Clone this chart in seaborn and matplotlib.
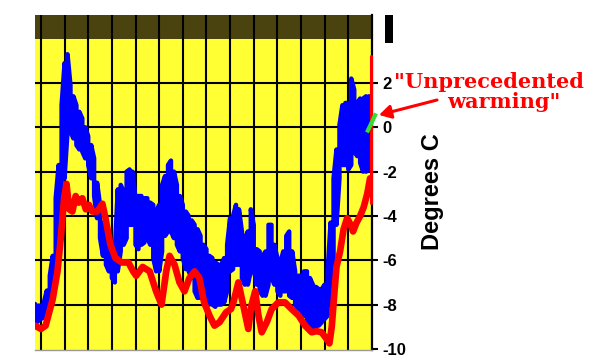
import numpy as np
import pandas as pd
import matplotlib
matplotlib.use("Agg")
import matplotlib.pyplot as plt
from matplotlib.patches import Rectangle
import seaborn as sns

# ---------------- data ----------------
# x in grid units (one vertical grid line per unit), y in degrees C
# Blue series: noisy band, given as top / bottom edge per column (step 0.125)
blue_start = -0.25
blue_step = 0.125
blue_top = [
    -7.97, -8.05, -8.05, -7.9, -7.37, -6.7, -5.8, -3.2,
    -1.7, 1.0, 2.9, 3.3, 1.9, 1.4, 1.0, 0.7,
    0.4, 0.0, -0.4, -0.8, -1.4, -2.5, -3.5, -4.3,
    -4.7, -5.0, -5.3, -5.6, -2.8, -2.6, -2.9, -2.0,
    -1.9, -2.0, -3.2, -3.1, -3.1, -3.2, -3.2, -3.4,
    -3.5, -3.8, -3.5, -2.6, -2.2, -1.7, -1.5, -2.0,
    -2.6, -3.1, -3.5, -3.8, -4.0, -4.2, -4.4, -4.6,
    -4.9, -5.3, -5.5, -5.8, -5.9, -6.1, -6.2, -6.2,
    -5.9, -5.3, -4.1, -4.0, -3.5, -3.7, -4.7, -5.0,
    -4.7, -3.7, -4.4, -5.5, -5.6, -5.8, -5.6, -4.4,
    -4.4, -5.3, -5.9, -6.1, -5.6, -4.9, -4.7, -5.6,
    -6.5, -6.7, -6.7, -6.5, -6.5, -6.8, -7.1, -7.2,
    -7.3, -7.3, -7.1, -6.5, -4.3, -2.3, -1.0, 0.1,
    1.0, 1.1, 1.1, 2.2, 1.7, 1.1, 1.3, 1.3,
    1.4, 1.4,
]
blue_bot = [
    -8.72, -8.77, -8.65, -8.57, -8.2, -7.9, -7.45, -6.5,
    -5.2, -3.1, -2.3, -0.2, -0.2, -0.5, -0.8, -1.0,
    -1.1, -1.4, -1.7, -2.3, -3.1, -4.1, -5.0, -5.8,
    -6.2, -6.5, -6.8, -7.0, -6.5, -5.6, -5.3, -5.0,
    -4.4, -4.4, -5.3, -5.5, -5.3, -5.2, -5.0, -5.3,
    -5.9, -6.5, -6.5, -5.6, -4.9, -4.7, -4.7, -5.0,
    -5.3, -5.6, -5.9, -6.4, -6.5, -6.8, -7.4, -7.7,
    -7.7, -7.7, -7.9, -8.0, -8.0, -8.1, -8.0, -8.0,
    -7.9, -7.4, -6.5, -6.4, -6.2, -6.2, -6.8, -7.1,
    -7.1, -6.5, -6.4, -7.1, -7.4, -7.6, -7.6, -7.1,
    -6.8, -7.1, -7.4, -7.6, -7.4, -7.4, -7.6, -7.7,
    -8.0, -8.2, -8.3, -8.5, -8.65, -8.95, -9.1, -9.1,
    -8.95, -8.8, -8.65, -8.5, -8.0, -6.8, -4.4, -2.3,
    -1.7, -1.7, -1.9, -1.7, -1.1, -1.3, -1.6, -2.0,
    -2.0, -1.9,
]

# Red series (smoother, thick line)
red_x = [-0.25, 0.0, 0.2, 0.35, 0.5, 0.7, 0.84, 0.98, 1.08, 1.2, 1.33, 1.47,
         1.6, 1.75, 1.9, 2.03, 2.17, 2.38, 2.6, 2.73, 2.94, 3.15, 3.43, 3.7,
         3.9, 4.03, 4.3, 4.6, 4.87, 5.1, 5.3, 5.44, 5.65, 5.86, 6.07, 6.28,
         6.5, 6.7, 6.9, 7.13, 7.34, 7.55, 7.83, 8.04, 8.14, 8.35, 8.56, 8.77,
         8.9, 9.06, 9.2, 9.34, 9.55, 9.76, 10.04, 10.32, 10.6, 10.9, 11.17,
         11.45, 11.66, 11.87, 12.08, 12.2, 12.3, 12.4, 12.5, 12.65, 12.8,
         12.95, 13.1, 13.2, 13.35, 13.5, 13.65, 13.8, 13.92]
red_y = [-8.95, -9.1, -8.95, -8.35, -7.75, -6.5, -5.0, -3.2, -2.55, -3.7, -3.8, -3.1,
         -3.4, -3.2, -3.7, -3.5, -3.8, -3.8, -3.45, -4.1, -5.3, -5.9, -6.1, -6.1,
         -6.5, -6.7, -6.3, -6.5, -7.4, -8.0, -6.5, -5.8, -6.2, -7.0, -7.4, -6.8,
         -6.5, -6.8, -7.9, -8.5, -8.95, -8.8, -8.35, -8.2, -7.9, -7.0, -8.05, -9.1,
         -8.05, -7.4, -8.5, -9.25, -8.8, -8.2, -7.9, -7.9, -8.2, -8.5, -8.95,
         -9.25, -9.2, -9.25, -9.55, -9.75, -9.0, -7.6, -6.3, -5.6, -4.6,
         -4.1, -4.4, -4.7, -4.3, -4.0, -3.6, -3.0, -2.3]

# Final thin red spike and green segment at the right edge
spike_x = [13.95, 13.95]
spike_y = [-3.4, 3.2]
green_x = [13.79, 14.17]
green_y = [-0.23, 0.63]

ytick_vals = [-10, -8, -6, -4, -2, 0, 2]
ytick_labels = ["-10", "-8", "-6", "-4", "-2", "0", "2"]
ylabel = "Degrees C"
note_line1 = '"Unprecedented'
note_line2 = 'warming"'

# ---------------- style ----------------
sns.set_style("white")
plt.rcParams["font.family"] = ["Liberation Sans", "DejaVu Sans"]
plt.rcParams["text.color"] = "black"

W, H = 593, 359
fig = plt.figure(figsize=(W / 100, H / 100), dpi=100)
ax = fig.add_axes([35 / W, 9 / H, 336.5 / W, 335 / H])
ax.set_facecolor("#ffff33")
ax.set_xlim(-0.25, 13.98)
ax.set_ylim(-10.05, 5.07)

# dark band on top
ax.axhspan(4, 5.07, color="#4a4310", zorder=0.2, lw=0)

# blue band: vertical strokes per column joined along the edges
bx, by = [], []
for i, (t, b) in enumerate(zip(blue_top, blue_bot)):
    x = blue_start + i * blue_step
    if i % 2 == 0:
        bx += [x, x]; by += [t, b]
    else:
        bx += [x, x]; by += [b, t]
sns.lineplot(x=bx, y=by, sort=False, estimator=None, color="#0000ff",
             lw=3.2, ax=ax, zorder=3, solid_joinstyle="round")

sns.lineplot(x=red_x, y=red_y, sort=False, estimator=None, color="#ff0000",
             lw=4.8, ax=ax, zorder=4, solid_joinstyle="round")
sns.lineplot(x=spike_x, y=spike_y, sort=False, estimator=None, color="#ff0000",
             lw=2.2, ax=ax, zorder=6, clip_on=False)
sns.lineplot(x=green_x, y=green_y, sort=False, estimator=None, color="#33dd33",
             lw=3, ax=ax, zorder=7, clip_on=False, solid_capstyle="butt")

# grid
ax.set_xticks(range(0, 14))
ax.set_yticks(ytick_vals)
ax.set_yticklabels(ytick_labels, fontweight="bold", fontsize=12)
ax.set_axisbelow(True)
ax.grid(True, color="black", lw=1.5)
ax.get_ygridlines()[0].set_visible(False)
ax.tick_params(axis="x", length=0, labelbottom=False)
ax.yaxis.tick_right()
ax.tick_params(axis="y", direction="out", length=4, width=1.5, pad=4,
               colors="black", right=True, left=False)

for s in ["top", "left"]:
    ax.spines[s].set_visible(False)
ax.spines["right"].set_color("black")
ax.spines["right"].set_linewidth(1.6)
ax.spines["bottom"].set_color("#9a9a9a")
ax.spines["bottom"].set_linewidth(1)

# y label
fig.text(432 / W, 1 - 192 / H, ylabel, rotation=90, fontsize=17, color="black",
         fontweight="bold", ha="center", va="center")

# annotation
fig.text(489 / W, 1 - 88 / H, note_line1, color="#ff0000", fontsize=15,
         fontweight="bold", family=["DejaVu Serif"], ha="center", va="baseline")
fig.text(504 / W, 1 - 108 / H, note_line2, color="#ff0000", fontsize=15,
         fontweight="bold", family=["DejaVu Serif"], ha="center", va="baseline")
ax.annotate("", xy=(379, H - 115), xycoords="figure pixels",
            xytext=(437, H - 100), textcoords="figure pixels",
            arrowprops=dict(arrowstyle="-|>,head_length=0.7,head_width=0.4",
                            color="#ff0000", lw=2.2, shrinkA=0, shrinkB=0))

# black mark at the top right
fig.add_artist(Rectangle((385 / W, (H - 43) / H), 8 / W, 28 / H,
                         transform=fig.transFigure, color="black", lw=0))

fig.savefig("out.png", dpi=100, facecolor="white")
